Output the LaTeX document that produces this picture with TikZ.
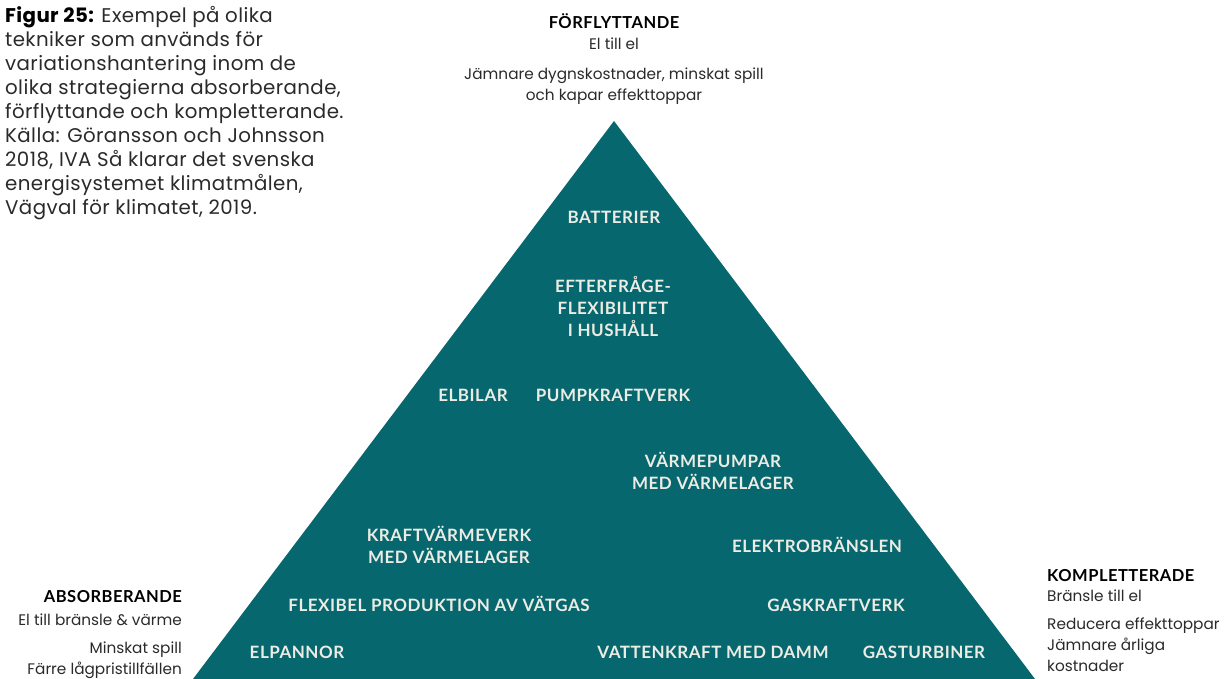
\documentclass[tikz,border=0pt]{standalone}
\usepackage{fontspec}
\setmainfont{Poppins}
\newfontfamily\techfont[LetterSpace=3]{Lato}
\newfontfamily\capfont[LetterSpace=2]{Poppins}
\definecolor{teal}{HTML}{07676E}
\definecolor{labelwhite}{HTML}{ECECE4}
\definecolor{textgrey}{HTML}{2A2A2A}
\tikzset{
  tech/.style={text=labelwhite, font=\techfont\bfseries\fontsize{17}{22}\selectfont, align=center, inner sep=0pt},
  head/.style={text=black, font=\techfont\bfseries\fontsize{16.5}{20}\selectfont, inner sep=0pt},
  sub/.style={text=textgrey, font=\fontsize{15.3}{21}\selectfont, inner sep=0pt}
}
\begin{document}
\begin{tikzpicture}[x=1pt, y=-1pt]

        % 0) Fix the page to the reference size
        \useasboundingbox (0,0) rectangle (1229,679);

        % 1) The big triangle
        \coordinate (apex) at (614,121);
        \coordinate (baseL) at (193,679);
        \coordinate (baseR) at (1035,679);
        \fill[teal] (apex) -- (baseL) -- (baseR) -- cycle;

        % 2) Caption at the top left
        \node[anchor=north west, align=left, inner sep=0pt, text=textgrey,
              font=\capfont\fontsize{19.8}{24}\selectfont] (caption) at (5,6)
          {{\bfseries\color{black}Figur 25:} Exempel på olika\\
           tekniker som används för\\
           variationshantering inom de\\
           olika strategierna absorberande,\\
           förflyttande och kompletterande.\\
           Källa: Göransson och Johnsson\\
           2018, IVA Så klarar det svenska\\
           energisystemet klimatmålen,\\
           Vägval för klimatet, 2019.};

        % 3) Strategy at the top
        \node[head] (forfl) at (614,21) {FÖRFLYTTANDE};
        \node[sub] (forflA) at (614,44) {El till el};
        \node[sub, align=center] (forflB) at (614,86)
          {Jämnare dygnskostnader, minskat spill\\och kapar effekttoppar};

        % 4) Strategy at the bottom left
        \node[head, anchor=east] (absorb) at (182,597) {ABSORBERANDE};
        \node[sub, anchor=east] (absorbA) at (182,620) {El till bränsle \& värme};
        \node[sub, anchor=north east, align=right] (absorbB) at (182,642)
          {Minskat spill\\Färre lågpristillfällen};

        % 5) Strategy at the bottom right
        \node[head, anchor=west] (kompl) at (1047,576) {KOMPLETTERADE};
        \node[sub, anchor=west] (komplA) at (1047,596) {Bränsle till el};
        \node[sub, anchor=north west, align=left] (komplB) at (1047,618)
          {Reducera effekttoppar\\Jämnare årliga\\kostnader};

        % 6) Techniques inside the triangle
        \node[tech] (batt) at (614,217) {BATTERIER};
        \node[tech] (flex) at (613,307) {EFTERFRÅGE-\\FLEXIBILITET\\I HUSHÅLL};
        \node[tech] (elbil) at (473,395) {ELBILAR};
        \node[tech] (pump) at (613,395) {PUMPKRAFTVERK};
        \node[tech] (vpump) at (713,471) {VÄRMEPUMPAR\\MED VÄRMELAGER};
        \node[tech] (kvv) at (449,545) {KRAFTVÄRMEVERK\\MED VÄRMELAGER};
        \node[tech] (elekt) at (817,545) {ELEKTROBRÄNSLEN};
        \node[tech] (vatgas) at (439,604) {FLEXIBEL PRODUKTION AV VÄTGAS};
        \node[tech] (gaskv) at (836,605) {GASKRAFTVERK};
        \node[tech] (elpan) at (297,652) {ELPANNOR};
        \node[tech] (vatten) at (713,652) {VATTENKRAFT MED DAMM};
        \node[tech] (gastur) at (924,652) {GASTURBINER};

\end{tikzpicture}
\end{document}
